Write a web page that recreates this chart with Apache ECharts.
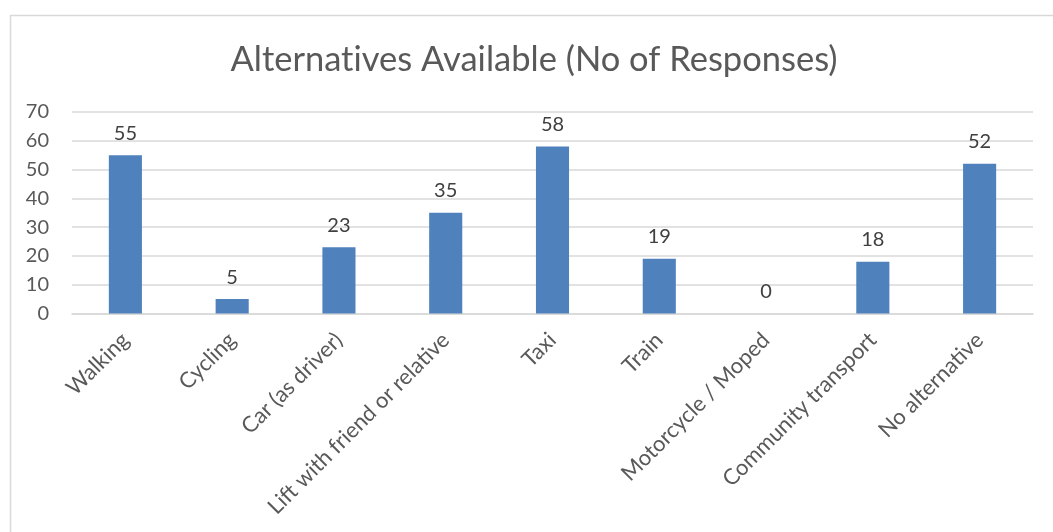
<!DOCTYPE html>
<html>
<head>
<meta charset="utf-8">
<script src="https://cdn.jsdelivr.net/npm/echarts@6/dist/echarts.min.js"></script>
<style>
  html, body { margin: 0; padding: 0; background: #fff; }
  #chart { width: 1053px; height: 532px; }
</style>
</head>
<body>
<div id="chart"></div>
<script>
// Transport alternatives and how many respondents named each
const categories = [
  'Walking', 'Cycling', 'Car (as driver)', 'Lift with friend or relative',
  'Taxi', 'Train', 'Motorcycle / Moped', 'Community transport', 'No alternative'
];
const responses = [55, 5, 23, 35, 58, 19, 0, 18, 52];
const yTicks = { min: 0, max: 70, interval: 10 };
// zero-width non-joiner keeps the "ti" pair from fusing into a ligature
const titleText = 'Alternat\u200Cives Available (No of Responses)';

const font = 'Lato, "Open Sans", sans-serif';
const chart = echarts.init(document.getElementById('chart'), null, { renderer: 'canvas' });

chart.setOption({
  animation: false,
  backgroundColor: '#ffffff',
  graphic: [{
    type: 'rect',
    left: 8, top: 13,
    shape: { width: 1200, height: 700 },
    style: { fill: 'none', stroke: '#d9d9d9', lineWidth: 1.5 },
    silent: true
  }],
  title: {
    text: titleText,
    left: 529,
    textAlign: 'center',
    top: 37,
    textStyle: { fontFamily: font, fontSize: 34.5, fontWeight: 'normal', color: '#595959' }
  },
  grid: { left: 72, right: 20, top: 112, bottom: 218.5, containLabel: false },
  xAxis: {
    type: 'category',
    data: categories,
    axisLine: { lineStyle: { color: '#d9d9d9', width: 1.5 } },
    axisTick: { show: false },
    axisLabel: {
      rotate: 45,
      interval: 0,
      margin: 23,
      fontFamily: font,
      fontSize: 22,
      color: '#595959'
    }
  },
  yAxis: {
    type: 'value',
    min: yTicks.min,
    max: yTicks.max,
    interval: yTicks.interval,
    axisLine: { show: false },
    axisTick: { show: false },
    splitLine: { lineStyle: { color: '#d9d9d9', width: 1.5 } },
    axisLabel: { margin: 23, fontFamily: font, fontSize: 20, color: '#595959' }
  },
  series: [{
    type: 'bar',
    data: responses,
    barWidth: '31%',
    itemStyle: { color: '#4f81bd' },
    label: {
      show: true,
      position: 'top',
      distance: 12,
      fontFamily: font,
      fontSize: 20,
      color: '#404040'
    }
  }]
});
</script>
</body>
</html>
